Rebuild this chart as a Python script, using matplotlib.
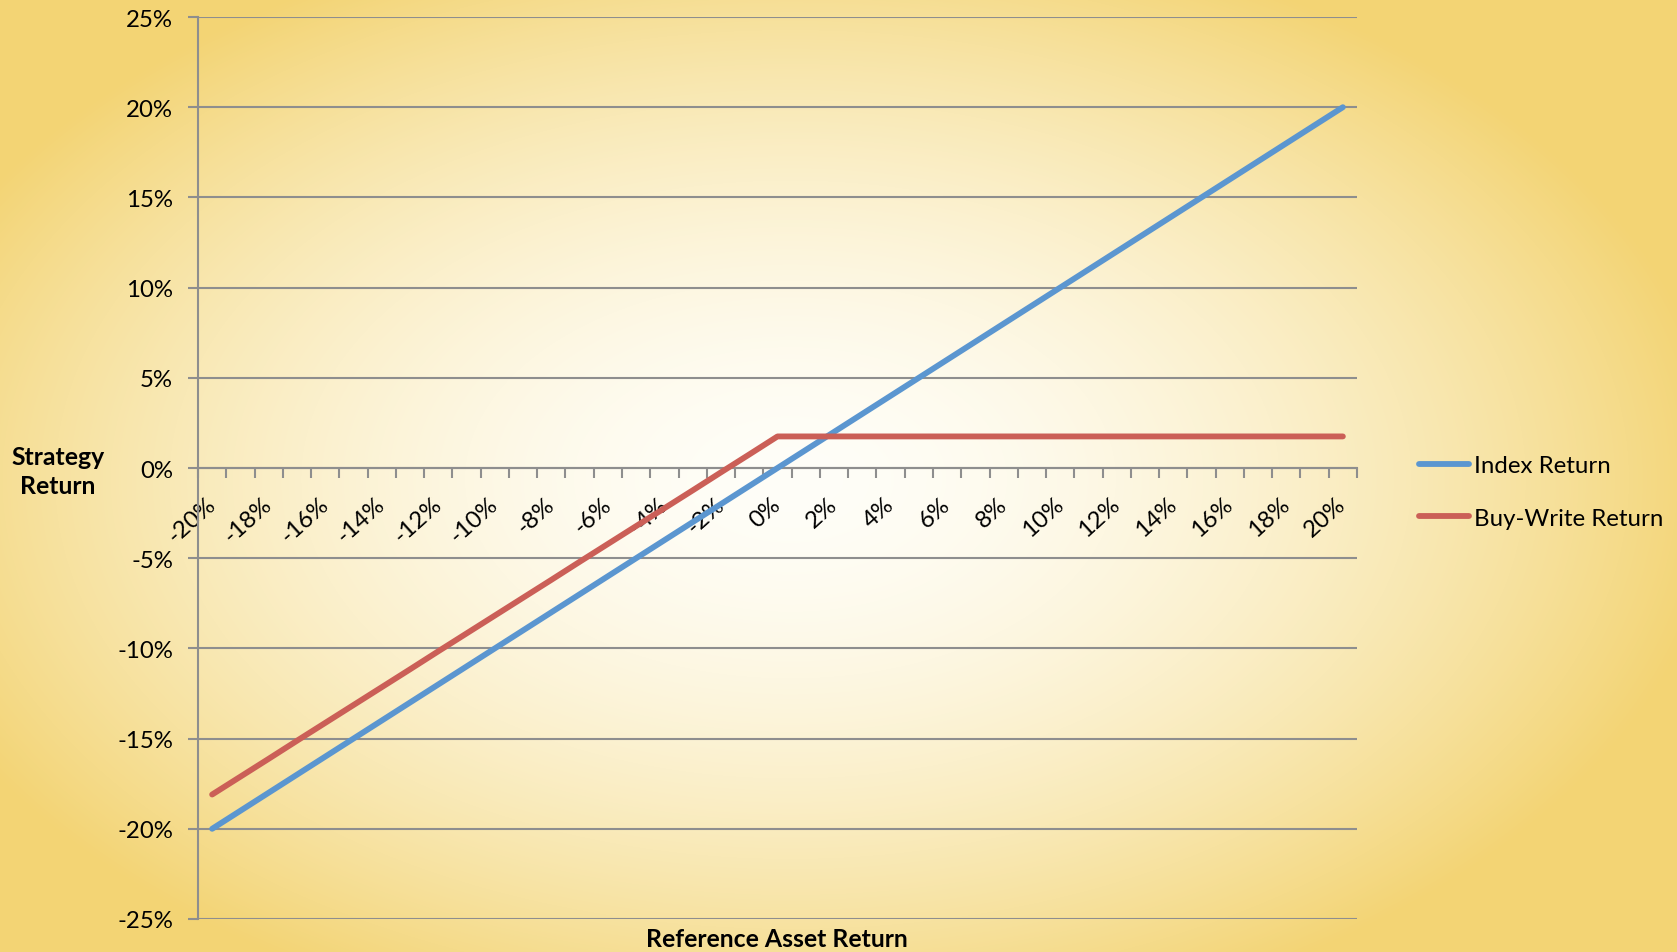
import numpy as np
import matplotlib.pyplot as plt
from matplotlib.colors import to_rgb
from matplotlib.lines import Line2D
from matplotlib.transforms import ScaledTranslation

# ============
#  DATA
# ============

asset_return = list(range(-20, 21))  # reference asset return, %
index_return = [-20, -19, -18, -17, -16, -15, -14, -13, -12, -11, -10,
                -9, -8, -7, -6, -5, -4, -3, -2, -1, 0,
                1, 2, 3, 4, 5, 6, 7, 8, 9, 10,
                11, 12, 13, 14, 15, 16, 17, 18, 19, 20]
buywrite_return = [-18.10, -17.11, -16.12, -15.12, -14.13, -13.14, -12.15, -11.16, -10.16, -9.17,
                   -8.18, -7.19, -6.20, -5.20, -4.21, -3.22, -2.23, -1.24, -0.24, 0.75, 1.75,
                   1.75, 1.75, 1.75, 1.75, 1.75, 1.75, 1.75, 1.75, 1.75, 1.75,
                   1.75, 1.75, 1.75, 1.75, 1.75, 1.75, 1.75, 1.75, 1.75, 1.75]
y_ticks = [-25, -20, -15, -10, -5, 0, 5, 10, 15, 20, 25]

BLUE = "#5B96D0"
RED = "#CB5F57"
GRID = "#8E8E8E"
FS = 17.3      # regular text
FS_B = 17.8    # bold axis titles

plt.rcParams["font.family"] = ["Lato", "DejaVu Sans"]

W, H = 1677, 953
fig = plt.figure(figsize=(W / 100, H / 100), dpi=100)

# --- radial background: pale centre fading to yellow at the edges ---
bg = fig.add_axes([0, 0, 1, 1], zorder=-10)
yy, xx = np.mgrid[0:H, 0:W]
cx, cy = 790, 480
r = np.sqrt(((xx - cx) / (W * 0.53)) ** 2 + ((yy - cy) / (H * 0.57)) ** 2)
t = np.clip(r / 1.05, 0, 1) ** 1.7
c0 = np.array(to_rgb("#FFFEF8"))
c1 = np.array(to_rgb("#F3D474"))
img = c0[None, None, :] * (1 - t[..., None]) + c1[None, None, :] * t[..., None]
bg.imshow(img, aspect="auto", extent=[0, W, H, 0])
bg.axis("off")

# --- main chart ---
ax = fig.add_axes([198 / W, 1 - 920 / H, 1159 / W, 902 / H])
ax.patch.set_alpha(0)

x = np.arange(len(asset_return))
ax.plot(x, index_return, color=BLUE, lw=4.2, solid_capstyle="round", zorder=3)
ax.plot(x, buywrite_return, color=RED, lw=4.2, solid_capstyle="round", zorder=3)

ax.set_xlim(-0.5, len(asset_return) - 0.5)
ax.set_ylim(-25, 25)

ax.set_yticks(y_ticks)
ax.set_yticklabels([f"{v}%" for v in y_ticks], fontsize=FS)
ax.yaxis.grid(True, color=GRID, lw=1.5)
ax.tick_params(axis="y", length=7, width=1.5, color=GRID, pad=11)

# category axis crossing at 0%, ticks between categories
for side in ("top", "right"):
    ax.spines[side].set_visible(False)
ax.spines["left"].set_color(GRID)
ax.spines["left"].set_linewidth(1.5)
ax.spines["bottom"].set_position(("data", 0))
ax.spines["bottom"].set_color(GRID)
ax.spines["bottom"].set_linewidth(1.5)

ax.set_xticks(np.arange(-0.5, len(asset_return)), minor=True)
ax.tick_params(axis="x", which="minor", length=7, width=1.5, color=GRID, direction="out")
ax.set_xticks(x[::2])
ax.set_xticklabels([f"{v}%" for v in asset_return[::2]], fontsize=FS,
                   rotation=42, ha="right", va="top", rotation_mode="anchor")
ax.tick_params(axis="x", which="major", length=0, pad=18)
shift = ScaledTranslation(-5 / 72, 0, fig.dpi_scale_trans)
for lbl in ax.get_xticklabels():
    lbl.set_transform(lbl.get_transform() + shift)

fig.text(58 / W, 1 - 472 / H, "Strategy\nReturn", fontsize=FS_B, fontweight="bold",
         ha="center", va="center", linespacing=1.3)
fig.text(777 / W, 1 - 940 / H, "Reference Asset Return", fontsize=FS_B,
         fontweight="bold", ha="center", va="center")

handles = [Line2D([], [], color=BLUE, lw=4.2, solid_capstyle="round"),
           Line2D([], [], color=RED, lw=4.2, solid_capstyle="round")]
fig.legend(handles, ["Index Return", "Buy-Write Return"], loc="center left",
           bbox_to_anchor=(1397 / W, 1 - 493 / H), frameon=False, fontsize=FS,
           handlelength=2.1, handletextpad=0.2, labelspacing=1.3)

fig.savefig("out.png", dpi=100)
